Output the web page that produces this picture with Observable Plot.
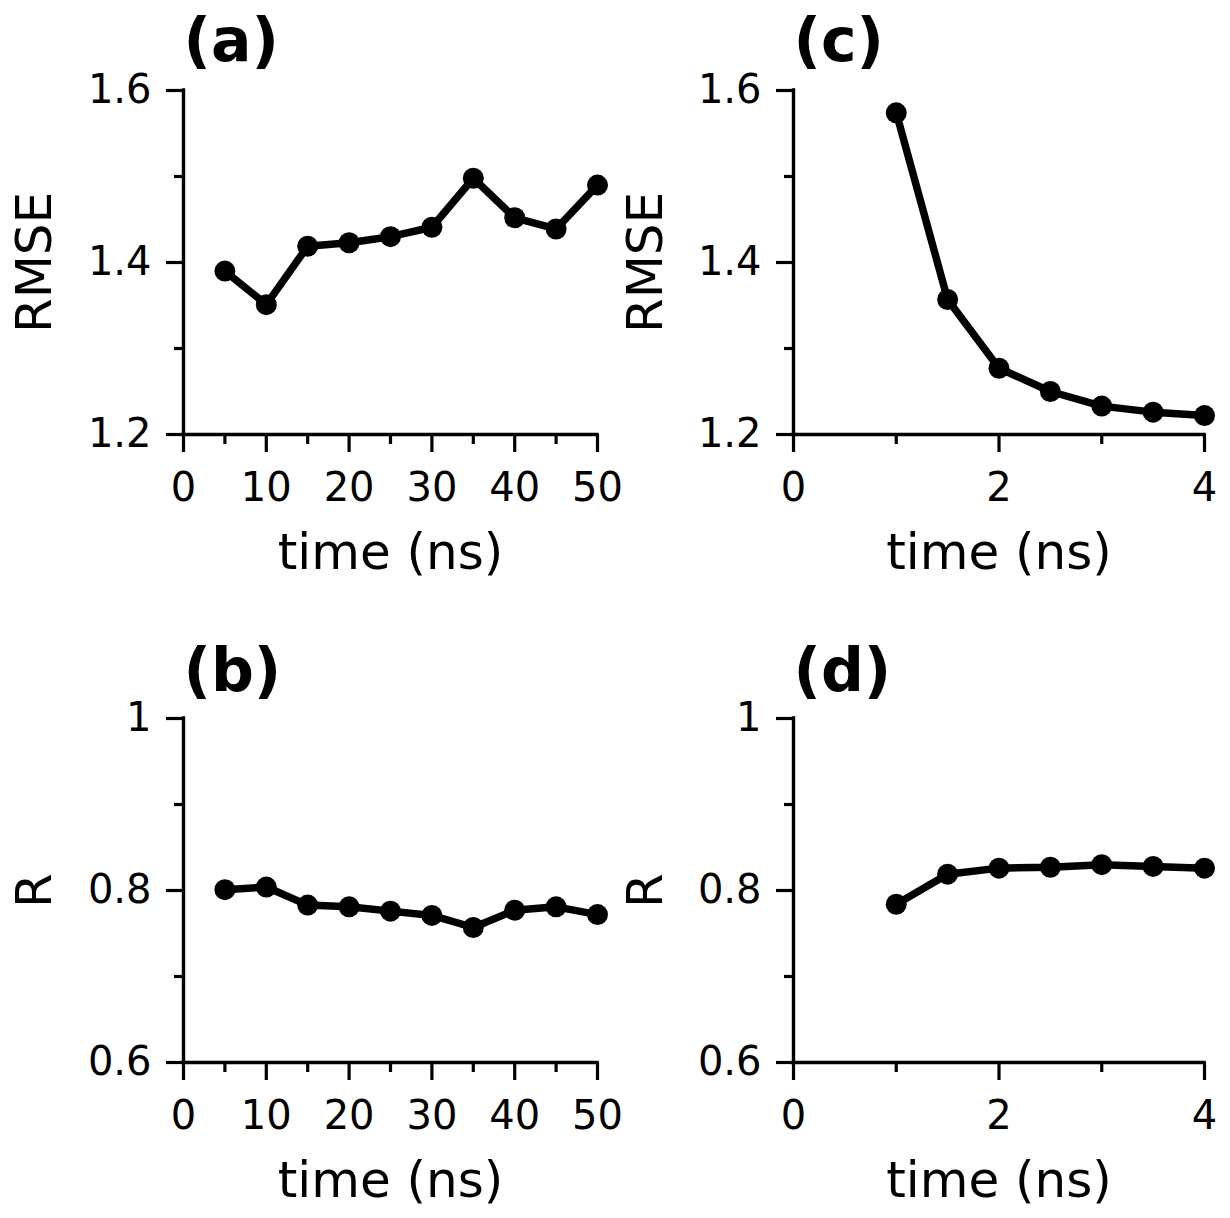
<!DOCTYPE html>
<html>
<head>
<meta charset="utf-8">
<script src="https://cdn.jsdelivr.net/npm/d3@7"></script>
<script src="https://cdn.jsdelivr.net/npm/@observablehq/plot@0.6"></script>
<style>
  html, body { margin: 0; padding: 0; background: #fff; }
  #chart { position: relative; width: 1230px; height: 1218px; background: #fff; }
  #chart svg { position: absolute; overflow: visible; }
</style>
</head>
<body>
<div id="chart"></div>
<script>
// ---- data ----
const timeLong = [5, 10, 15, 20, 25, 30, 35, 40, 45, 50];
const rmseLong = [1.390, 1.351, 1.419, 1.423, 1.430, 1.441, 1.498, 1.452, 1.439, 1.490];
const rLong    = [0.801, 0.804, 0.783, 0.781, 0.776, 0.771, 0.757, 0.777, 0.781, 0.772];

const timeShort = [1, 1.5, 2, 2.5, 3, 3.5, 4];
const rmseShort = [1.574, 1.357, 1.277, 1.250, 1.233, 1.226, 1.222];
const rShort    = [0.784, 0.819, 0.826, 0.827, 0.830, 0.828, 0.826];

const xMajorLong = [0, 10, 20, 30, 40, 50];
const xMinorLong = [5, 15, 25, 35, 45];
const xMajorShort = [0, 2, 4];
const xMinorShort = [1, 3];
const yMajorRmse = [1.2, 1.4, 1.6];
const yMinorRmse = [1.3, 1.5];
const yMajorR = [0.6, 0.8, 1];
const yMinorR = [0.7, 0.9];

const panelTitles = ["(a)", "(b)", "(c)", "(d)"];
const xLabel = "time (ns)";
const yLabels = ["RMSE", "R"];

// ---- drawing ----
const FONT = "DejaVu Sans";
const container = document.getElementById("chart");

function panel(cfg) {
  const data = cfg.xs.map((t, i) => ({t, v: cfg.ys[i]}));
  const svg = Plot.plot({
    width: 615,
    height: 609,
    marginLeft: cfg.m[0],
    marginRight: cfg.m[1],
    marginTop: cfg.m[2],
    marginBottom: cfg.m[3],
    style: {fontFamily: FONT, fontSize: "40px", color: "black", background: "transparent", overflow: "visible"},
    x: {domain: cfg.xDomain, label: null},
    y: {domain: cfg.yDomain, label: null},
    marks: [
      Plot.axisX(cfg.xMajor, {tickSize: 18, tickPadding: 20, strokeWidth: 3.2, stroke: "black", fill: "black", label: null, fontSize: 40, tickFormat: d => String(d)}),
      Plot.axisX(cfg.xMinor, {tickSize: 10, strokeWidth: 3.2, stroke: "black", label: null, tickFormat: () => ""}),
      Plot.axisY(cfg.yMajor, {tickSize: 17, tickPadding: 15, strokeWidth: 3.2, stroke: "black", fill: "black", label: null, fontSize: 40, tickFormat: d => String(d)}),
      Plot.axisY(cfg.yMinor, {tickSize: 9, strokeWidth: 3.2, stroke: "black", label: null, tickFormat: () => ""}),
      Plot.ruleX([cfg.xDomain[0]], {stroke: "black", strokeWidth: 3.4, strokeLinecap: "square"}),
      Plot.ruleY([cfg.yDomain[0]], {stroke: "black", strokeWidth: 3.4, strokeLinecap: "square"}),
      Plot.line(data, {x: "t", y: "v", stroke: "black", strokeWidth: 7.5}),
      Plot.dot(data, {x: "t", y: "v", r: 10.5, fill: "black", stroke: null}),
      Plot.text([cfg.title], {frameAnchor: "top-left", textAnchor: "start", lineAnchor: "bottom", dy: cfg.titleDy, fontSize: 60, fontWeight: "bold", fill: "black"}),
      Plot.text([xLabel], {frameAnchor: "bottom", textAnchor: "middle", lineAnchor: "bottom", dy: 134, fontSize: 50, fill: "black"}),
      Plot.text([cfg.ylabel], {frameAnchor: "left", textAnchor: "middle", lineAnchor: "middle", dx: cfg.ylabelDx, rotate: -90, fontSize: 50, fill: "black"})
    ]
  });
  svg.style.left = cfg.left + "px";
  svg.style.top = cfg.top + "px";
  container.appendChild(svg);
}

panel({xs: timeLong, ys: rmseLong, xDomain: [0, 50], yDomain: [1.2, 1.6],
  xMajor: xMajorLong, xMinor: xMinorLong, yMajor: yMajorRmse, yMinor: yMinorRmse,
  title: panelTitles[0], ylabel: yLabels[0], left: 0, top: 0,
  m: [183, 18, 90, 175], titleDy: -30, ylabelDx: -149});

panel({xs: timeLong, ys: rLong, xDomain: [0, 50], yDomain: [0.6, 1],
  xMajor: xMajorLong, xMinor: xMinorLong, yMajor: yMajorR, yMinor: yMinorR,
  title: panelTitles[1], ylabel: yLabels[1], left: 0, top: 609,
  m: [183, 18, 109, 156], titleDy: -28, ylabelDx: -149});

panel({xs: timeShort, ys: rmseShort, xDomain: [0, 4], yDomain: [1.2, 1.6],
  xMajor: xMajorShort, xMinor: xMinorShort, yMajor: yMajorRmse, yMinor: yMinorRmse,
  title: panelTitles[2], ylabel: yLabels[0], left: 615, top: 0,
  m: [178, 26, 90, 175], titleDy: -30, ylabelDx: -148});

panel({xs: timeShort, ys: rShort, xDomain: [0, 4], yDomain: [0.6, 1],
  xMajor: xMajorShort, xMinor: xMinorShort, yMajor: yMajorR, yMinor: yMinorR,
  title: panelTitles[3], ylabel: yLabels[1], left: 615, top: 609,
  m: [178, 26, 109, 156], titleDy: -28, ylabelDx: -148});
</script>
</body>
</html>
